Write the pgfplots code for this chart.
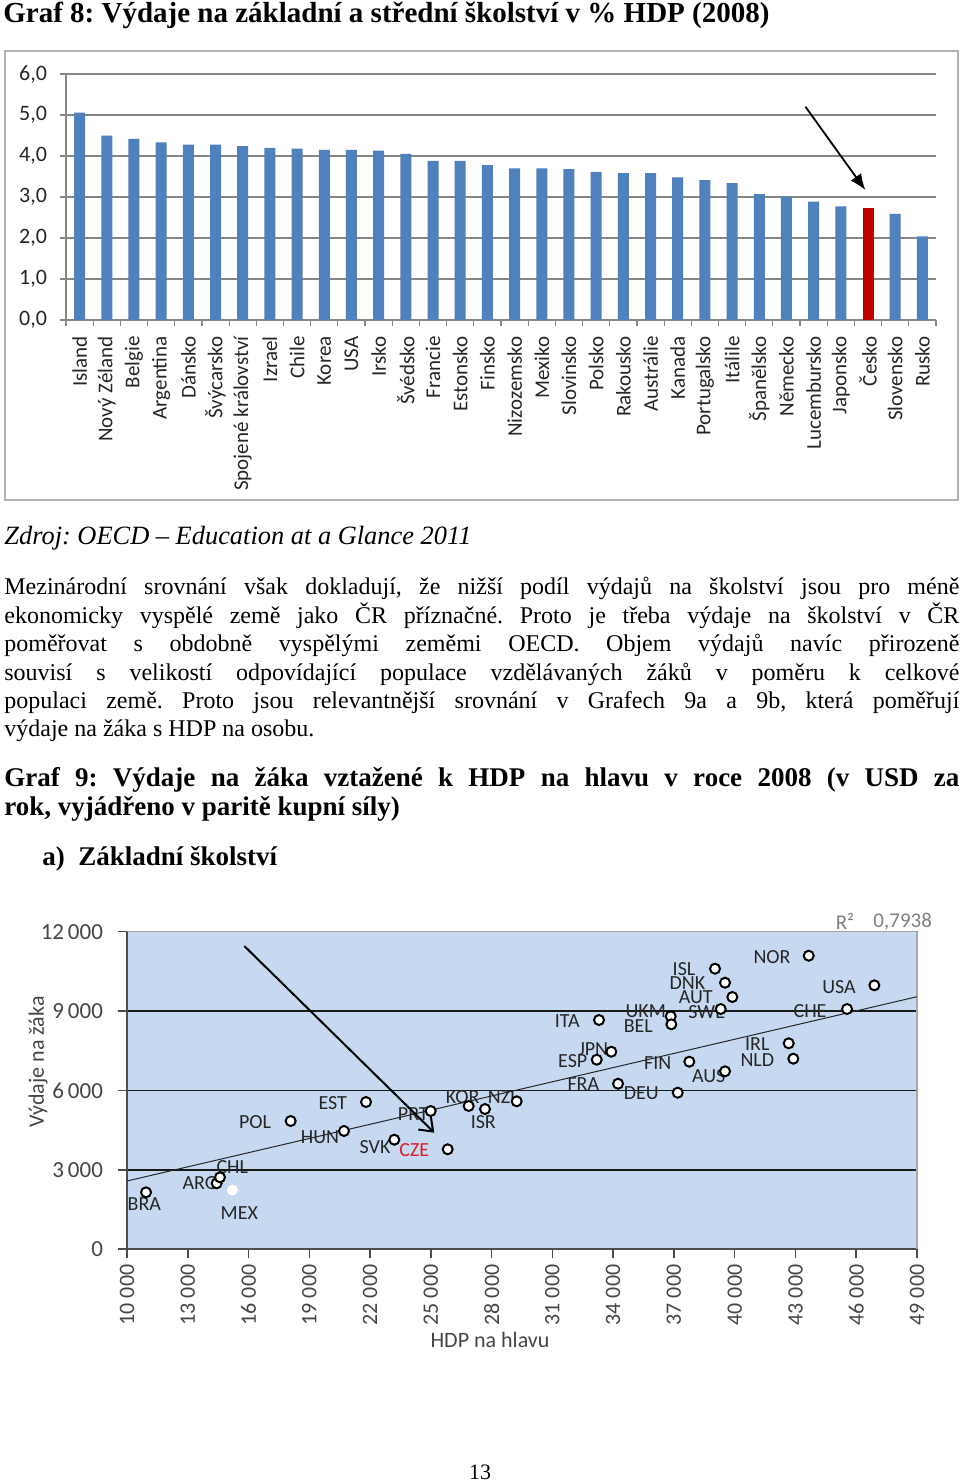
\documentclass[border=0pt]{standalone}
\usepackage{fontspec}
\setmainfont{Liberation Serif}
\newfontfamily\calfont{Carlito}
\usepackage{pgfplots}
\pgfplotsset{compat=1.18}
\usetikzlibrary{arrows.meta}
\definecolor{barblue}{RGB}{79,129,189}
\definecolor{barred}{RGB}{192,0,0}
\definecolor{gridgray}{RGB}{134,134,134}
\definecolor{scbg}{RGB}{198,217,241}
\definecolor{txtgray}{RGB}{70,70,70}
\definecolor{czered}{RGB}{220,30,40}
\frenchspacing
\begin{document}
\begin{tikzpicture}
\fill[white] (0,0) rectangle (480pt,742pt);
\path[use as bounding box] (0,0) rectangle (480pt,742pt);

% ---------------- Graf 8: bar chart ----------------
\begin{axis}[
  at={(33pt,582pt)}, anchor=south west,
  scale only axis, width=435pt, height=123pt,
  xmin=-0.5, xmax=31.5, ymin=0, ymax=6,
  axis lines*=left,
  axis line style={gridgray, line width=0.7pt},
  ytick={0,1,2,3,4,5,6},
  yticklabels={{0,0},{1,0},{2,0},{3,0},{4,0},{5,0},{6,0}},
  ymajorgrids, major grid style={gridgray, line width=0.6pt},
  tick align=outside, major tick length=3pt, minor tick length=3pt,
  tick style={gridgray, line width=0.6pt},
  major x tick style={draw=none},
  xtick={0,...,31},
  minor xtick={-0.5,0.5,...,31.5},
  xticklabels={Island,Nový Zéland,Belgie,Argentina,Dánsko,Švýcarsko,Spojené království,Izrael,Chile,Korea,USA,Irsko,Švédsko,Francie,Estonsko,Finsko,Nizozemsko,Mexiko,Slovinsko,Polsko,Rakousko,Austrálie,Kanada,Portugalsko,Itálile,Španělsko,Německo,Lucembursko,Japonsko,Česko,Slovensko,Rusko},
  xticklabel shift=5pt,
  x tick label style={rotate=90, anchor=east, font=\calfont\fontsize{10.5}{12}\selectfont, text=black!85, inner sep=0pt},
  y tick label style={font=\calfont\fontsize{11}{12}\selectfont, text=black!85},
  yticklabel shift=3pt,
  clip=false,
]
\addplot[ybar, bar width=5.5pt, bar shift=0pt, fill=barblue, draw=none] coordinates {
(0,5.06) (1,4.50) (2,4.42) (3,4.33) (4,4.28) (5,4.28) (6,4.24) (7,4.20)
(8,4.18) (9,4.15) (10,4.15) (11,4.13) (12,4.05) (13,3.88) (14,3.88) (15,3.78)
(16,3.70) (17,3.70) (18,3.68) (19,3.61) (20,3.58) (21,3.58) (22,3.48) (23,3.41)
(24,3.34) (25,3.07) (26,3.01) (27,2.89) (28,2.77) (30,2.59) (31,2.04)};
\addplot[ybar, bar width=5.5pt, bar shift=0pt, fill=barred, draw=none] coordinates {(29,2.74)};
\draw[-{Latex[length=8pt,width=6.5pt]}, line width=0.9pt] (axis cs:26.7,5.2) -- (axis cs:28.9,3.17);
\end{axis}

% ---------------- Graf 9: scatter ----------------
\begin{axis}[
  at={(63.5pt,117.35pt)}, anchor=south west,
  scale only axis, width=395pt, height=158.8pt,
  xmin=10000, xmax=49000, ymin=0, ymax=12000,
  scaled x ticks=false, scaled y ticks=false,
  axis lines*=left,
  axis line style={black!70, line width=1pt},
  axis background/.style={fill=scbg},
  xtick={10000,13000,...,49000},
  xticklabels={10 000,13 000,16 000,19 000,22 000,25 000,28 000,31 000,34 000,37 000,40 000,43 000,46 000,49 000},
  ytick={0,3000,6000,9000,12000},
  yticklabels={0,3\,000,6\,000,9\,000,12\,000},
  ymajorgrids, major grid style={black!90, line width=0.8pt},
  tick align=outside, major tick length=4.5pt,
  tick style={black!70, line width=0.8pt},
  xticklabel shift=3pt,
  x tick label style={rotate=90, anchor=east, font=\calfont\fontsize{11}{12}\selectfont, text=txtgray, inner sep=0pt},
  y tick label style={font=\calfont\fontsize{11.5}{12}\selectfont, text=txtgray},
  yticklabel shift=4pt,
  clip=false,
]
\draw[gray!70, line width=0.8pt] (rel axis cs:0,1) -- (rel axis cs:1,1) -- (rel axis cs:1,0);
\begin{scope}[every node/.style={font=\calfont\fontsize{10}{12}\selectfont, text=black!85, inner sep=0pt}]
\node at (axis cs:10854,1700) {BRA};
\node at (axis cs:13604,2516) {ARG};
\node at (axis cs:15199,3098) {CHL};
\node at (axis cs:15544,1383) {MEX};
\node at (axis cs:16319,4821) {POL};
\node at (axis cs:19528,4231) {HUN};
\node at (axis cs:20155,5539) {EST};
\node at (axis cs:22244,3865) {SVK};
\node[text=czered] at (axis cs:24184,3752) {CZE};
\node at (axis cs:24135,5123) {PRT};
\node at (axis cs:26573,5765) {KOR};
\node at (axis cs:28578,5743) {NZL};
\node at (axis cs:27590,4809) {ISR};
\node at (axis cs:31738,8637) {ITA};
\node at (axis cs:33021,7579) {JPN};
\node at (axis cs:32004,7114) {ESP};
\node at (axis cs:32527,6234) {FRA};
\node at (axis cs:35608,9014) {UKM};
\node at (axis cs:35243,8448) {BEL};
\node at (axis cs:35391,5894) {DEU};
\node at (axis cs:36201,7038) {FIN};
\node at (axis cs:38718,6547) {AUS};
\node at (axis cs:37499,10578) {ISL};
\node at (axis cs:37662,10049) {DNK};
\node at (axis cs:38077,9521) {AUT};
\node at (axis cs:38620,8977) {SWE};
\node at (axis cs:41844,11032) {NOR};
\node at (axis cs:45151,9921) {USA};
\node at (axis cs:43720,9003) {CHE};
\node at (axis cs:41118,7756) {IRL};
\node at (axis cs:41118,7140) {NLD};
\end{scope}
\addplot[black!85, line width=0.5pt] coordinates {(10000,2580) (49000,9543)};
\addplot[only marks, mark=*, mark size=2.5pt, mark options={draw=black, fill=white, line width=1pt}] coordinates {
(10940,2153) (14428,2493) (14591,2720) (18080,4847) (20713,4470) (21800,5565)
(23197,4141) (24993,5225) (25832,3778) (26868,5414) (27674,5300) (29238,5591)
(33302,8663) (33910,7465) (33190,7163) (34241,6256) (36842,8803) (36872,8500)
(37188,5917) (37760,7088) (39029,10601) (39523,10072) (39884,9532) (39311,9078)
(39523,6725) (42667,7783) (42894,7201) (43654,11093) (45546,9078) (46894,9974)};
\addplot[only marks, mark=*, mark size=2.5pt, mark options={draw=white, fill=white}] coordinates {(15200,2240)};
\draw[-{Straight Barb[length=6pt,width=9pt]}, line width=1pt] (axis cs:15791,11459) -- (axis cs:25171,4405);
\end{axis}

% ---------------- page texts (pixel coordinates) ----------------
\begin{scope}[shift={(0pt,742pt)}, x=0.5pt, y=-0.5pt]
\draw[gray!60, line width=1pt] (5,51) rectangle (958,500);
\node[anchor=base west, inner sep=0pt, font=\fontsize{14.5}{16}\selectfont\bfseries] at (3,23) {Graf 8: Výdaje na základní a střední školství v \% HDP (2008)};
\node[anchor=base west, inner sep=0pt, font=\fontsize{13.2}{14}\selectfont\itshape] at (4,545) {Zdroj: OECD – Education at a Glance 2011};
\node[anchor=base west, inner sep=0pt] at (4,595) {\parbox[t]{477.5pt}{\fontsize{12}{14.2}\selectfont\parindent=0pt\tolerance=10000\hbadness=10000\emergencystretch=20pt
Mezinárodní srovnání však dokladují, že nižší podíl výdajů na školství jsou pro méně\linebreak
ekonomicky vyspělé země jako ČR příznačné. Proto je třeba výdaje na školství v~ČR\linebreak
poměřovat s~obdobně vyspělými zeměmi OECD. Objem výdajů navíc přirozeně\linebreak
souvisí s velikostí odpovídající populace vzdělávaných žáků v~poměru k~celkové\linebreak
populaci země. Proto jsou relevantnější srovnání v~Grafech 9a a 9b, která poměřují\linebreak
výdaje na žáka s HDP na osobu.}};
\node[anchor=base west, inner sep=0pt] at (4,787) {\parbox[t]{477.5pt}{\fontsize{13.5}{14.5}\selectfont\bfseries\parindent=0pt\tolerance=10000\hbadness=10000\emergencystretch=20pt
Graf 9: Výdaje na žáka vztažené k~HDP na hlavu v~roce 2008 (v~USD za\linebreak
rok, vyjádřeno v~paritě kupní síly)}};
\node[anchor=base west, inner sep=0pt, font=\fontsize{13.5}{16}\selectfont\bfseries] at (42,866) {a)~~Základní školství};
\node[font=\calfont\fontsize{10.5}{12}\selectfont, text=gray] at (845,921.7) {R²};
\node[font=\calfont\fontsize{10.5}{12}\selectfont, text=gray] at (902.7,921.7) {0,7938};
\node[rotate=90, font=\calfont\fontsize{11}{12}\selectfont, text=txtgray] at (38,1062) {Výdaje na žáka};
\node[font=\calfont\fontsize{11}{12}\selectfont, text=txtgray] at (490,1340) {HDP na hlavu};
\node[anchor=base, inner sep=0pt, font=\fontsize{11}{13}\selectfont] at (480,1480) {13};
\end{scope}
\end{tikzpicture}
\end{document}
